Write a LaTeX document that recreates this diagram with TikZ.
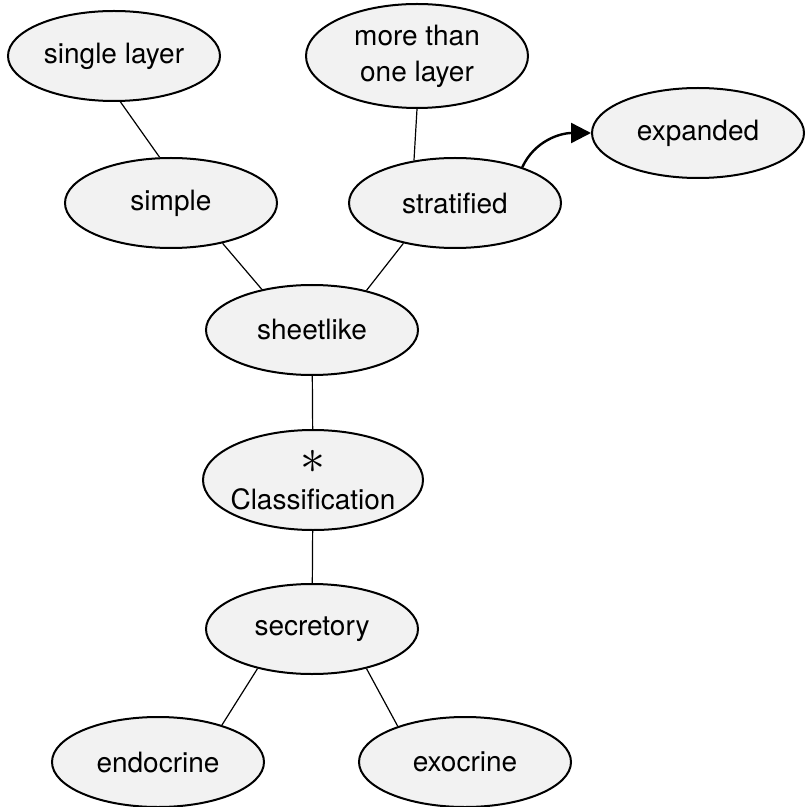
\documentclass[tikz,border=0pt]{standalone}
\usepackage{fontspec}
\setmainfont{TeX Gyre Heros}
\usepackage{tikz}
\usetikzlibrary{arrows.meta, shapes.geometric}

\begin{document}
\begin{tikzpicture}[x=0.5pt, y=-0.5pt,
  cell/.style={ellipse, draw, line width=1pt, fill=gray!10, inner xsep=-10pt, inner ysep=0pt,
    minimum width=106pt, minimum height=45pt, align=center, font=\fontsize{14}{18}\selectfont},
  link/.style={line width=0.6pt}]
\useasboundingbox (0,0) rectangle (806,807);
\node[cell] (single) at (114,56) {single layer};
\node[cell, minimum width=111pt, minimum height=52pt] (more) at (417,56) {more than\\one layer};
\node[cell] (expanded) at (698,133) {expanded};
\node[cell] (simple) at (171,203) {simple};
\node[cell] (strat) at (455,203) {stratified};
\node[cell] (sheet) at (312,330) {sheetlike};
\node[cell, minimum width=110pt, minimum height=50pt] (class) at (313,480) {{\fontsize{28}{15}\selectfont$\ast$}\\Classification};
\node[cell] (secr) at (312,629) {secretory};
\node[cell] (endo) at (158,762) {endocrine};
\node[cell] (exo) at (465,762) {exocrine};
\draw[link] (single.-82) -- (simple.104);
\draw[link] (more.south) -- (strat.134);
\draw[link] (simple.-38) -- (sheet.141);
\draw[link] (strat.-142) -- (sheet.36);
\draw[link] (sheet) -- (class);
\draw[link] (class) -- (secr);
\draw[link] (secr.-144) -- (endo.30);
\draw[link] (secr.-36) -- (exo.152);
\draw[line width=1.2pt, -{Triangle[length=10pt, width=10pt]}] (strat.28) to[out=65, in=180] (expanded.west);
\end{tikzpicture}
\end{document}
